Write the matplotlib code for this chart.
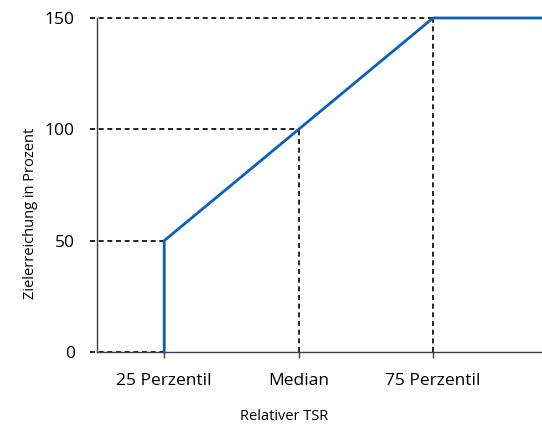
import matplotlib.pyplot as plt

# Zielerreichungskurve
kurve_x = [1, 1, 3, 3.81]
kurve_y = [0, 50, 150, 150]

# Referenzlinien (Stützpunkte)
stuetz_x = [1, 2, 3]
stuetz_y = [50, 100, 150]

tick_pos = [1, 2, 3]
tick_labels = ['25 Perzentil', 'Median', '75 Perzentil']
y_ticks = [0, 50, 100, 150]

plt.rcParams['font.family'] = ['Open Sans', 'DejaVu Sans']

fig = plt.figure(figsize=(5.42, 4.28), dpi=100)
ax = fig.add_axes([0.179, 0.1776, 0.821, 0.7804])

x0 = 0.45
ax.set_xlim(0.5, 3.81)
ax.set_ylim(0, 150)

dash = dict(color='black', lw=1.2, ls=(0, (3, 2.2)), clip_on=False, zorder=2)
for sx, sy in zip(stuetz_x, stuetz_y):
    ax.plot([x0, sx], [sy, sy], **dash)
    ax.plot([sx, sx], [0, sy], **dash)
ax.plot([x0, 1], [0, 0], **dash)

ax.plot(kurve_x, kurve_y, color='#0a60b6', lw=2, zorder=3, clip_on=False)

ax.set_xticks(tick_pos)
ax.set_xticklabels(tick_labels, fontsize=12.5)
ax.set_yticks(y_ticks)
ax.set_yticklabels([str(v) for v in y_ticks], fontsize=12.5)
ax.tick_params(axis='x', length=4, width=1, color='#404040', pad=11)
ax.tick_params(axis='y', length=0, pad=16)

for side in ['top', 'right']:
    ax.spines[side].set_visible(False)
for side in ['left', 'bottom']:
    ax.spines[side].set_color('#404040')
    ax.spines[side].set_linewidth(1)

ax.set_ylabel('Zielerreichung in Prozent', fontsize=10.5)
ax.yaxis.set_label_coords(-0.132, 0.415)
ax.set_xlabel('Relativer TSR', fontsize=10.5)
ax.xaxis.set_label_coords(0.42, -0.172)

fig.savefig('out.png', dpi=100)
